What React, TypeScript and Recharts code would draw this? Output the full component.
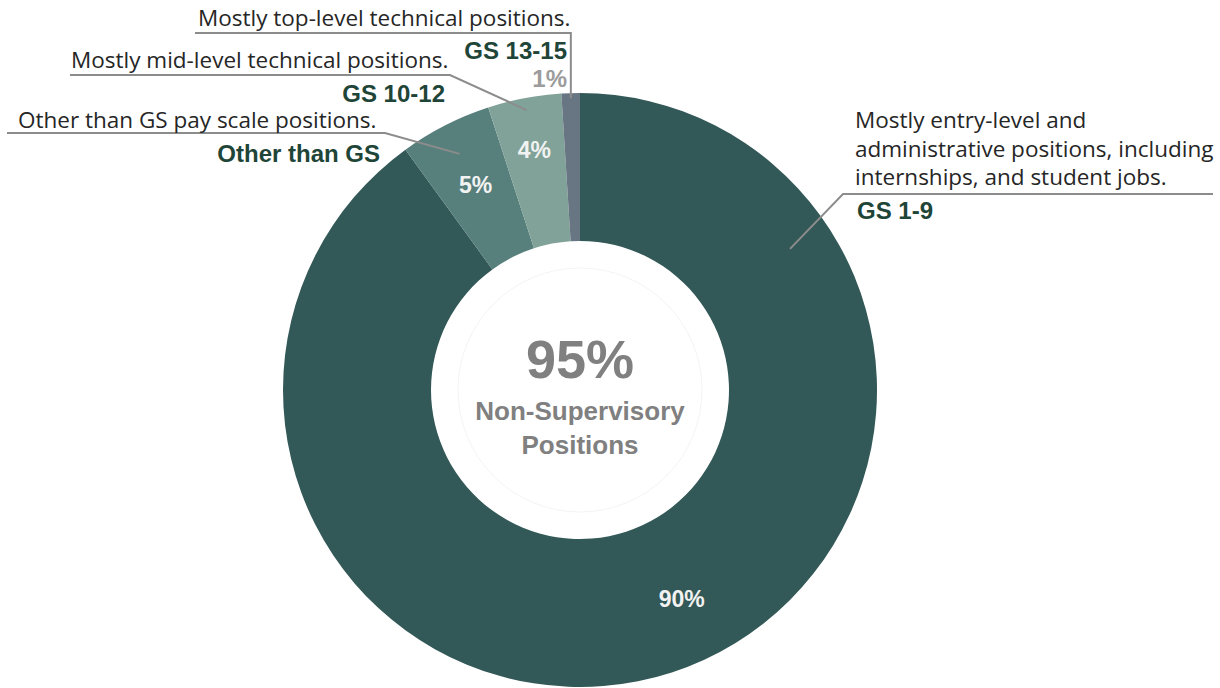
import { PieChart, Pie, Cell } from "recharts";

const CATEGORIES = ["GS 1-9", "Other than GS", "GS 10-12", "GS 13-15"];
const SHARES = [90, 5, 4, 1];
const DESCRIPTIONS = [
  ["Mostly entry-level and", "administrative positions, including", "internships, and student jobs."],
  ["Other than GS pay scale positions."],
  ["Mostly mid-level technical positions."],
  ["Mostly top-level technical positions."],
];
const CENTER_LINES = ["95%", "Non-Supervisory", "Positions"];

const SLICE_COLORS = ["#325857", "#577f7c", "#80a298", "#687583"];
const NAME_COLOR = "#1e4537";
const DESC_COLOR = "#262626";
const LEADER = "#8c8c8c";
const SANS = "'Liberation Sans', Arial, sans-serif";
const DESC_FONT = "'Open Sans', 'Noto Sans', sans-serif";

const data = CATEGORIES.map((name, i) => ({ name, value: SHARES[i] }));

const RAD = Math.PI / 180;
const polar = (cx: number, cy: number, r: number, a: number) => ({
  x: cx + r * Math.cos(-a * RAD),
  y: cy + r * Math.sin(-a * RAD),
});

// where each callout goes (offsets from the pie centre)
const CALLOUTS = [
  {
    pct: { angle: -64, r: 232, inside: true },
    anchor: { angle: 33.9, r: 253 },
    path: [[263, -196], [633, -196]],
    descAt: [275, -262], descAnchor: "start",
    nameAt: [277, -171], nameAnchor: "start",
  },
  {
    pct: { r: 230, inside: true },
    anchor: { r: 265 },
    path: [[-195, -257], [-573, -257]],
    descAt: [-562, -262], descAnchor: "start",
    nameAt: [-200, -228], nameAnchor: "end",
  },
  {
    pct: { r: 244, inside: true },
    anchor: { r: 285 },
    path: [[-130, -315], [-510, -315]],
    descAt: [-509, -322], descAnchor: "start",
    nameAt: [-135, -288], nameAnchor: "end",
  },
  {
    pct: { r: 0, inside: false, at: [-13, -312] },
    anchor: { r: 292 },
    path: [[-6, -357], [-385, -357]],
    descAt: [-382, -364], descAnchor: "start",
    nameAt: [-13, -331], nameAnchor: "end",
  },
];

function SliceLabel(props: any) {
  const { cx, cy, midAngle, index, value } = props;
  const c = CALLOUTS[index];
  const a = polar(cx, cy, c.anchor.r, c.anchor.angle ?? midAngle);
  const first = c.path[0];
  const pts = [[a.x, a.y], [cx + first[0], cy + first[1]], ...c.path.slice(1).map((p) => [cx + p[0], cy + p[1]])];
  if (index === 3) pts[1][0] = a.x;
  let pctX: number, pctY: number;
  if (c.pct.inside) {
    const p = polar(cx, cy, c.pct.r, c.pct.angle ?? midAngle);
    pctX = p.x;
    pctY = p.y;
  } else {
    pctX = cx + c.pct.at[0];
    pctY = cy + c.pct.at[1];
  }
  return (
    <g>
      {index === 0 && (
        <g>
          <circle cx={cx} cy={cy} r={122} fill="none" stroke="#f4f4f4" strokeWidth={1} />
          <text x={cx} y={cy - 12} textAnchor="middle" fontFamily={SANS} fontWeight={700} fontSize={54} fill="#808080">
            {CENTER_LINES[0]}
          </text>
          <text x={cx} y={cy + 30} textAnchor="middle" fontFamily={SANS} fontWeight={700} fontSize={26} fill="#808080">
            {CENTER_LINES[1]}
          </text>
          <text x={cx} y={cy + 64} textAnchor="middle" fontFamily={SANS} fontWeight={700} fontSize={26} fill="#808080">
            {CENTER_LINES[2]}
          </text>
        </g>
      )}
      <polyline
        points={pts.map((p) => p.join(",")).join(" ")}
        fill="none"
        stroke={LEADER}
        strokeWidth={2}
      />
      {DESCRIPTIONS[index].map((line, k) => (
        <text
          key={k}
          x={cx + c.descAt[0]}
          y={cy + c.descAt[1] + k * 28.5}
          textAnchor={c.descAnchor}
          fontFamily={DESC_FONT}
          fontSize={22.5}
          fill={DESC_COLOR}
        >
          {line}
        </text>
      ))}
      <text
        x={cx + c.nameAt[0]}
        y={cy + c.nameAt[1]}
        textAnchor={c.nameAnchor}
        fontFamily={SANS}
        fontWeight={700}
        fontSize={24}
        fill={NAME_COLOR}
      >
        {CATEGORIES[index]}
      </text>
      <text
        x={pctX}
        y={pctY}
        textAnchor={c.pct.inside ? "middle" : "end"}
        dominantBaseline="central"
        fontFamily={SANS}
        fontWeight={700}
        fontSize={c.pct.inside ? 23 : 24}
        fill={c.pct.inside ? "#f2f2f2" : "#9c9c9c"}
      >
        {value}%
      </text>
    </g>
  );
}

export default function App() {
  return (
    <div style={{ position: "fixed", left: 0, top: 0, width: 1220, height: 688, background: "#fff" }}>
      <PieChart width={1220} height={688} margin={{ top: 0, right: 0, bottom: 0, left: 0 }}>
        <Pie
          data={data}
          dataKey="value"
          nameKey="name"
          cx={580}
          cy={390}
          innerRadius={149}
          outerRadius={297}
          startAngle={90}
          endAngle={-270}
          stroke="none"
          label={SliceLabel}
          labelLine={false}
          isAnimationActive={false}
        >
          {data.map((d, i) => (
            <Cell key={d.name} fill={SLICE_COLORS[i]} />
          ))}
        </Pie>
      </PieChart>
    </div>
  );
}
